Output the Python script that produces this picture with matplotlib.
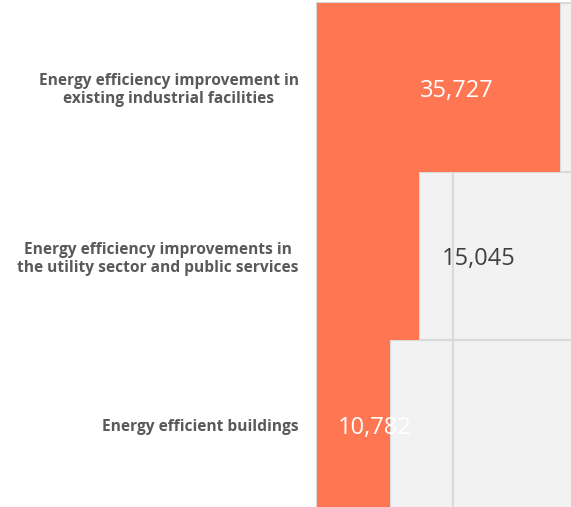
import matplotlib.pyplot as plt

categories = ['Energy efficiency improvement in\nexisting industrial facilities',
              'Energy efficiency improvements in\nthe utility sector and public services',
              'Energy efficient buildings']
values = [35727, 15045, 10782]
scale_max = 40000
label_x = [20600, 23800, 8500]
label_colors = ['white', '#404040', 'white']

orange = '#FF7652'
grey_fill = '#F2F2F2'
grey_line = '#D9D9D9'

fig = plt.figure(figsize=(5.71, 5.07), dpi=100)
ax = fig.add_axes([317 / 571, -2 / 507, 254 / 571, 507 / 507 - 1 / 507])

ypos = list(range(len(categories)))
rest = [scale_max - v for v in values]

ax.barh(ypos, rest, left=values, height=1.0, color=grey_fill,
        edgecolor=grey_line, linewidth=1.5, zorder=1)
ax.axvline(20000, color=grey_line, linewidth=1.5, zorder=2)
ax.barh(ypos, values, height=1.0, color=orange, linewidth=0, zorder=3)

for y, v, lx, c in zip(ypos, values, label_x, label_colors):
    ax.text(lx, y + 0.02, f'{v:,}', ha='center', va='center', color=c,
            fontsize=17, family='Open Sans', zorder=4)

ax.set_xlim(0, 37300)
ax.set_ylim(2.5, -0.5)
ax.set_yticks(ypos)
ax.set_yticklabels(categories, fontsize=11.2, fontweight='bold', color='#595959',
                   family='Open Sans', multialignment='center', linespacing=1.15)
ax.tick_params(axis='y', length=0, pad=13)
ax.set_xticks([])

for side in ['right', 'bottom']:
    ax.spines[side].set_visible(False)
for side in ['left', 'top']:
    ax.spines[side].set_color(grey_line)
    ax.spines[side].set_linewidth(1.5)

fig.savefig('out.png', dpi=100)
